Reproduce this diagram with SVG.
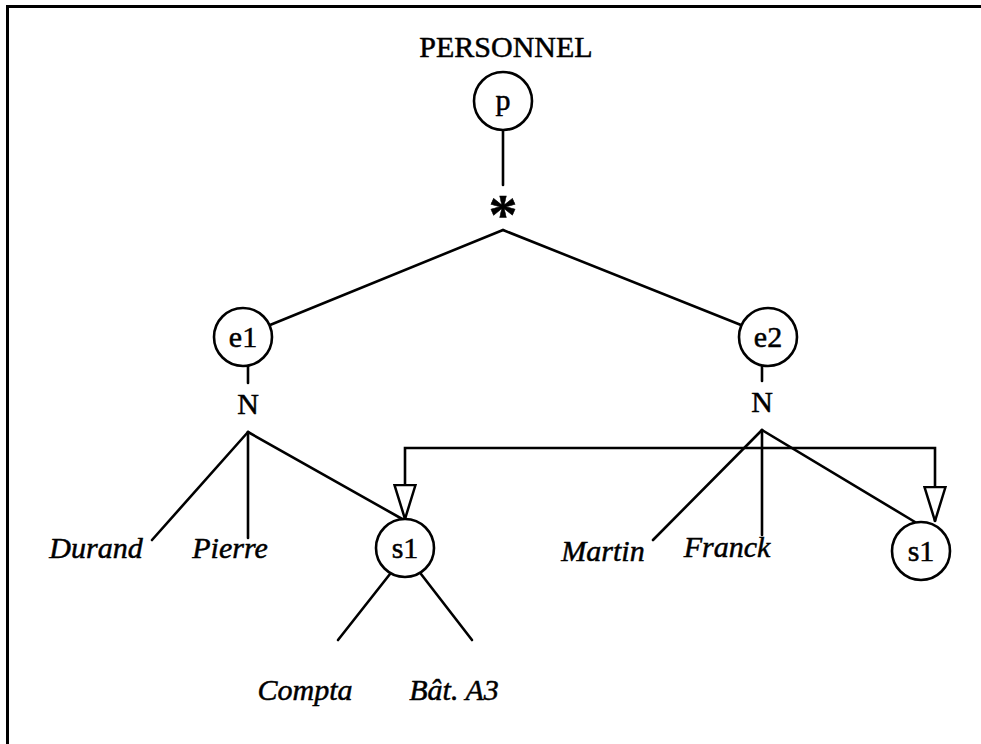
<svg xmlns="http://www.w3.org/2000/svg" width="981" height="744" viewBox="0 0 981 744">
  <style>
    .ln { stroke: #000; stroke-width: 2.6; fill: none; stroke-linecap: round; }
    .nd { stroke: #000; stroke-width: 2.6; fill: #fff; }
    .t { font-family: "Liberation Serif", "Times New Roman", serif; font-size: 30px; fill: #000; stroke: #000; stroke-width: 0.5; text-anchor: middle; }
    .it { font-style: italic; }
    .star { font-weight: bold; font-size: 58px; }
  </style>
  <defs>
    <marker id="open-tri" viewBox="0 0 36 24" refX="35" refY="12" markerWidth="36" markerHeight="24" markerUnits="userSpaceOnUse" orient="auto-start-reverse">
      <path d="M1,1.5 L35,12 L1,22.5 Z" fill="#fff" stroke="#000" stroke-width="2.5" stroke-linejoin="miter"/>
    </marker>
  </defs>
  <rect width="981" height="744" fill="#fff"/>

  <!-- frame (top and left edges) -->
  <path d="M7.5,744 L7.5,6.5 L981,6.5" stroke="#000" stroke-width="3" fill="none"/>

  <text class="t" x="506" y="57">PERSONNEL</text>

  <g id="connectors">
    <line class="ln" x1="503" y1="130" x2="503" y2="185"/>
    <line class="ln" x1="503" y1="230" x2="270" y2="325"/>
    <line class="ln" x1="503" y1="230" x2="741" y2="325"/>
    <line class="ln" x1="248" y1="366" x2="248" y2="383"/>
    <line class="ln" x1="762" y1="366" x2="762" y2="381"/>
    <!-- e1 fork -->
    <line class="ln" x1="248" y1="432" x2="152" y2="540"/>
    <line class="ln" x1="248" y1="432" x2="248" y2="538"/>
    <line class="ln" x1="248" y1="432" x2="404" y2="520"/>
    <!-- e2 fork -->
    <line class="ln" x1="762" y1="430" x2="653" y2="540"/>
    <line class="ln" x1="762" y1="430" x2="762" y2="535"/>
    <line class="ln" x1="762" y1="430" x2="915" y2="522"/>
    <!-- s1 fork -->
    <line class="ln" x1="390" y1="574" x2="338" y2="640"/>
    <line class="ln" x1="421" y1="574" x2="472" y2="640"/>
    <!-- shared reference to s1 -->
    <path class="ln" d="M405,519 L405,448 L935,448 L935,521" marker-start="url(#open-tri)" marker-end="url(#open-tri)"/>
  </g>

  <g id="node-p">
    <circle class="nd" cx="503" cy="101" r="29"/>
    <text class="t" x="503" y="110">p</text>
  </g>
  <g id="node-star">
    <text class="t star" x="503" y="234">*</text>
  </g>
  <g id="node-e1">
    <circle class="nd" cx="243" cy="337" r="29"/>
    <text class="t" x="243" y="347">e1</text>
  </g>
  <g id="node-e1-N">
    <text class="t" x="248" y="414">N</text>
  </g>
  <g id="node-e2">
    <circle class="nd" cx="768" cy="337" r="29"/>
    <text class="t" x="768" y="347">e2</text>
  </g>
  <g id="node-e2-N">
    <text class="t" x="762" y="412">N</text>
  </g>
  <g id="node-durand"><text class="t it" x="96" y="558">Durand</text></g>
  <g id="node-pierre"><text class="t it" x="230" y="558">Pierre</text></g>
  <g id="node-s1a">
    <circle class="nd" cx="405" cy="548" r="29"/>
    <text class="t" x="405" y="558">s1</text>
  </g>
  <g id="node-martin"><text class="t it" x="603" y="561">Martin</text></g>
  <g id="node-franck"><text class="t it" x="727" y="557">Franck</text></g>
  <g id="node-s1b">
    <circle class="nd" cx="921" cy="551" r="29"/>
    <text class="t" x="921" y="561">s1</text>
  </g>
  <g id="node-compta"><text class="t it" x="305" y="700">Compta</text></g>
  <g id="node-bat"><text class="t it" x="454" y="700">Bât. A3</text></g>
</svg>
